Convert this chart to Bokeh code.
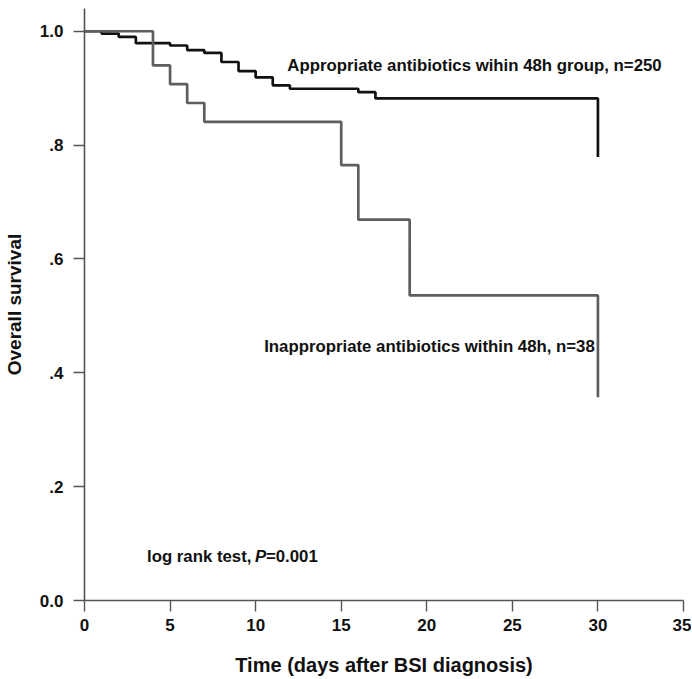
from bokeh.plotting import figure
from bokeh.models import FixedTicker, Label, Range1d
from bokeh.embed import file_html
from bokeh.resources import INLINE

# Kaplan-Meier data
appr_t = [0, 1, 2, 3, 5, 6, 7, 8, 9, 10, 11, 12, 16, 17, 30]
appr_s = [1.0, 0.996, 0.990, 0.979, 0.975, 0.967, 0.962, 0.946, 0.930, 0.919, 0.905, 0.899, 0.893, 0.882, 0.779]
inap_t = [0, 4, 5, 6, 7, 15, 16, 19, 30]
inap_s = [1.0, 0.940, 0.907, 0.874, 0.841, 0.765, 0.669, 0.536, 0.357]

x_ticks = [0, 5, 10, 15, 20, 25, 30, 35]
y_ticks = [0.0, 0.2, 0.4, 0.6, 0.8, 1.0]
y_tick_labels = ["0.0", ".2", ".4", ".6", ".8", "1.0"]

label_appr = "Appropriate antibiotics wihin 48h group, n=250"
label_inap = "Inappropriate antibiotics within 48h, n=38"

FONT = "Liberation Sans"

p = figure(frame_width=599, frame_height=592, output_backend="svg", toolbar_location=None,
           x_range=Range1d(0, 35), y_range=Range1d(0, 1.04),
           min_border_left=78, min_border_right=8, min_border_top=8, min_border_bottom=0)
p.outline_line_color = None
p.xgrid.grid_line_color = None
p.ygrid.grid_line_color = None
p.background_fill_color = "white"
p.border_fill_color = "white"

p.step(appr_t, appr_s, mode="after", line_color="#111111", line_width=2.7)
p.step(inap_t, inap_s, mode="after", line_color="#5e5e5e", line_width=2.7)

for ax in (p.xaxis[0], p.yaxis[0]):
    ax.axis_line_color = "#555555"
    ax.axis_line_width = 1.6
    ax.major_tick_line_color = "#555555"
    ax.major_tick_line_width = 1.4
    ax.minor_tick_line_color = None
    ax.major_tick_in = 0
    ax.major_tick_out = 11
    ax.major_label_text_font = FONT
    ax.major_label_text_font_style = "bold"
    ax.major_label_text_font_size = "17px"
    ax.major_label_text_color = "#111111"
    ax.axis_label_text_font = FONT
    ax.axis_label_text_font_style = "bold"
    ax.axis_label_text_color = "#111111"

p.xaxis[0].ticker = FixedTicker(ticks=x_ticks)
p.xaxis[0].major_label_standoff = 7
p.xaxis[0].axis_label = "Time (days after BSI diagnosis)"
p.xaxis[0].axis_label_text_font_size = "20px"
p.xaxis[0].axis_label_standoff = 20

p.yaxis[0].ticker = FixedTicker(ticks=y_ticks)
p.yaxis[0].major_label_overrides = {t: l for t, l in zip(y_ticks, y_tick_labels)}
p.yaxis[0].major_label_standoff = 10
p.yaxis[0].axis_label = "Overall survival"
p.yaxis[0].axis_label_text_font_size = "19px"
p.yaxis[0].axis_label_standoff = 12

def add_text(x, y, txt, style="bold", xoff=0, size="16.8px"):
    p.add_layout(Label(x=x, y=y, text=txt, x_offset=xoff, text_font=FONT, text_font_style=style,
                       text_font_size=size, text_color="#111111", text_baseline="middle",
                       text_align="left"))

add_text(11.85, 0.940, label_appr)
add_text(10.50, 0.446, label_inap)
add_text(3.65, 0.077, "log rank test,")
add_text(3.65, 0.077, "P", style="bold italic", xoff=108)
add_text(3.65, 0.077, "=0.001", xoff=119)

open("out.html", "w").write(file_html(p, INLINE))
